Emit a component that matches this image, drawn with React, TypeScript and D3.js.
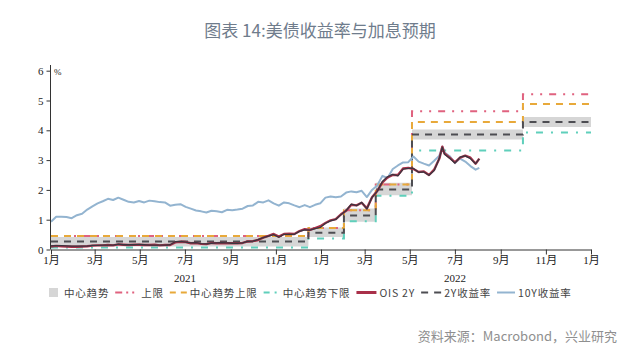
import React, { useEffect, useRef } from "react";
import * as d3 from "d3";

// ---- data ----
const weekDates = [
  "2021-01-01","2021-01-08","2021-01-15","2021-01-22","2021-01-29","2021-02-05","2021-02-12","2021-02-19","2021-02-26",
  "2021-03-05","2021-03-12","2021-03-19","2021-03-26","2021-04-02","2021-04-09","2021-04-16","2021-04-23","2021-04-30",
  "2021-05-07","2021-05-14","2021-05-21","2021-05-28","2021-06-04","2021-06-11","2021-06-18","2021-06-25",
  "2021-07-02","2021-07-09","2021-07-16","2021-07-23","2021-07-30","2021-08-06","2021-08-13","2021-08-20","2021-08-27",
  "2021-09-03","2021-09-10","2021-09-17","2021-09-24","2021-10-01","2021-10-08","2021-10-15","2021-10-22","2021-10-29",
  "2021-11-05","2021-11-12","2021-11-19","2021-11-26","2021-12-03","2021-12-10","2021-12-17","2021-12-24","2021-12-31",
  "2022-01-07","2022-01-14","2022-01-21","2022-01-28","2022-02-04","2022-02-11","2022-02-18","2022-02-25",
  "2022-03-04","2022-03-11","2022-03-18","2022-03-25","2022-04-01","2022-04-08","2022-04-15","2022-04-22","2022-04-29",
  "2022-05-06","2022-05-13","2022-05-20","2022-05-27","2022-06-03","2022-06-10","2022-06-14","2022-06-17","2022-06-24",
  "2022-07-01","2022-07-08","2022-07-15","2022-07-22","2022-07-29","2022-08-03"
];

const tenYear = [
  0.93,1.10,1.10,1.09,1.05,1.15,1.20,1.34,1.45,
  1.55,1.62,1.70,1.66,1.74,1.67,1.60,1.58,1.63,
  1.58,1.64,1.62,1.59,1.58,1.47,1.50,1.52,
  1.43,1.37,1.31,1.28,1.24,1.30,1.28,1.25,1.33,
  1.32,1.34,1.37,1.46,1.48,1.60,1.58,1.65,1.55,
  1.47,1.58,1.55,1.48,1.42,1.49,1.42,1.50,1.55,
  1.74,1.78,1.75,1.78,1.91,1.95,1.92,1.97,
  1.76,2.00,2.15,2.47,2.40,2.70,2.82,2.92,2.93,
  3.12,2.95,2.88,2.82,2.98,3.15,3.45,3.25,3.13,
  2.90,3.05,2.95,2.80,2.68,2.74
];

const ois2Y = [
  0.10,0.12,0.11,0.10,0.09,0.09,0.10,0.11,0.13,
  0.14,0.14,0.15,0.14,0.17,0.16,0.15,0.16,0.16,
  0.15,0.15,0.16,0.14,0.15,0.15,0.24,0.26,
  0.25,0.21,0.22,0.19,0.18,0.22,0.21,0.22,0.21,
  0.21,0.21,0.22,0.27,0.28,0.32,0.40,0.46,0.52,
  0.43,0.52,0.53,0.52,0.62,0.68,0.66,0.72,0.78,
  0.89,0.98,1.02,1.18,1.30,1.50,1.48,1.57,
  1.38,1.75,1.96,2.25,2.42,2.50,2.50,2.72,2.74,
  2.70,2.60,2.62,2.50,2.68,3.05,3.45,3.22,3.08,
  2.92,3.08,3.15,3.08,2.88,3.05
];

const twoYear = [
  0.12,0.13,0.13,0.12,0.11,0.11,0.11,0.11,0.14,
  0.14,0.15,0.15,0.15,0.18,0.16,0.16,0.16,0.17,
  0.16,0.15,0.15,0.15,0.15,0.16,0.26,0.27,
  0.25,0.22,0.23,0.20,0.19,0.21,0.22,0.23,0.22,
  0.21,0.21,0.22,0.27,0.28,0.33,0.40,0.45,0.50,
  0.41,0.51,0.51,0.51,0.61,0.66,0.65,0.70,0.74,
  0.88,0.96,1.01,1.17,1.31,1.52,1.47,1.58,
  1.36,1.75,1.95,2.28,2.44,2.52,2.47,2.70,2.72,
  2.72,2.59,2.60,2.49,2.65,3.06,3.43,3.20,3.06,
  2.90,3.10,3.14,3.05,2.88,3.04
];

const stepDates = ["2021-01-01","2021-12-15","2022-02-01","2022-03-16","2022-05-04","2022-10-01","2023-01-01"];
const upperLimit = [0.45, 0.72, 1.32, 2.18, 4.64, 5.21];
const ctUpper = [0.45, 0.72, 1.32, 2.18, 4.28, 4.88];
const ctLower = [0.07, 0.37, 0.95, 1.80, 3.32, 3.93];
const ctMedian = [0.27, 0.56, 1.14, 2.01, 3.86, 4.28];
const bandLow = [0.10, 0.42, 0.93, 1.82, 3.69, 4.11];
const bandHigh = [0.42, 0.74, 1.38, 2.24, 4.03, 4.45];

const yTicks = [0, 1, 2, 3, 4, 5, 6];
const yearLabels = [["2021", "2021-07-01"], ["2022", "2022-07-01"]];
const legendLabels = ["中心趋势", "上限", "中心趋势上限", "中心趋势下限", "OIS 2Y", "2Y收益率", "10Y收益率"];

const TITLE = "图表 14:美债收益率与加息预期";
const SOURCE = "资料来源：Macrobond，兴业研究";

// ---- styles ----
const C = {
  band: "#d6d6d6",
  pink: "#e0627f",
  orange: "#e8a93a",
  teal: "#5fcfbb",
  median: "#4d4d52",
  ois: "#a93049",
  two: "#3a3640",
  ten: "#93b4d0",
};
const SERIF = "'Liberation Serif','Noto Sans CJK SC',serif";
const SANS = "'Noto Sans CJK SC','Noto Sans',sans-serif";

export default function App() {
  const ref = useRef<SVGSVGElement>(null);

  useEffect(() => {
    const svg = d3.select(ref.current);
    svg.selectAll("*").remove();
    const parse = d3.timeParse("%Y-%m-%d");

    const x = d3.scaleTime().domain([parse("2021-01-01")!, parse("2023-01-01")!]).range([51, 591]);
    const y = d3.scaleLinear().domain([0, 6]).range([249.5, 70.7]);

    // title
    svg.append("text").attr("x", 320).attr("y", 37).attr("text-anchor", "middle")
      .attr("font-family", SANS).attr("font-size", 17).attr("font-weight", 400)
      .attr("fill", "#6f7c8c").text(TITLE);

    const stepPts = (vals: number[]) =>
      stepDates.map((d, i) => ({ d: parse(d)!, v: vals[Math.min(i, vals.length - 1)] }));

    // band
    const bandPts = stepDates.map((d, i) => ({
      d: parse(d)!,
      lo: bandLow[Math.min(i, bandLow.length - 1)],
      hi: bandHigh[Math.min(i, bandHigh.length - 1)],
    }));
    const area = d3.area<any>().x((p) => x(p.d)).y0((p) => y(p.lo)).y1((p) => y(p.hi)).curve(d3.curveStepAfter);
    svg.append("path").attr("d", area(bandPts)!).attr("fill", C.band);

    const stepLine = d3.line<any>().x((p) => x(p.d)).y((p) => y(p.v)).curve(d3.curveStepAfter);
    const steps: [number[], string, string][] = [
      [ctLower, C.teal, "7,8,2,8"],
      [upperLimit, C.pink, "7,7,2,7,2,7"],
      [ctUpper, C.orange, "7,6"],
      [ctMedian, C.median, "7,6"],
    ];
    steps.forEach(([vals, col, dash]) => {
      svg.append("path").attr("d", stepLine(stepPts(vals))!).attr("fill", "none")
        .attr("stroke", col).attr("stroke-width", 2).attr("stroke-dasharray", dash);
    });

    const line = d3.line<any>().x((p) => x(p.d)).y((p) => y(p.v));
    const series = (vals: number[]) => weekDates.map((d, i) => ({ d: parse(d)!, v: vals[i] }));
    svg.append("path").attr("d", line(series(tenYear))!).attr("fill", "none")
      .attr("stroke", C.ten).attr("stroke-width", 2).attr("stroke-linejoin", "round");
    svg.append("path").attr("d", line(series(ois2Y))!).attr("fill", "none")
      .attr("stroke", C.ois).attr("stroke-width", 2.4).attr("stroke-linejoin", "round");
    svg.append("path").attr("d", line(series(twoYear))!).attr("fill", "none")
      .attr("stroke", C.two).attr("stroke-width", 1.3).attr("stroke-linejoin", "round");

    // y axis
    const gy = svg.append("g").attr("transform", "translate(50.5,0)")
      .call(d3.axisLeft(y).tickValues(yTicks).tickFormat(d3.format("d")).tickSize(4).tickPadding(3).tickSizeOuter(0));
    gy.select(".domain").remove();
    gy.selectAll("line").attr("stroke", "#333");
    gy.selectAll("text").attr("font-family", SERIF).attr("font-size", 11).attr("fill", "#222");
    svg.append("line").attr("x1", 50.5).attr("x2", 50.5).attr("y1", 65).attr("y2", 249.5)
      .attr("stroke", "#333").attr("stroke-width", 1);
    svg.append("text").attr("x", 54).attr("y", 75).attr("font-family", SERIF).attr("font-size", 9)
      .attr("fill", "#222").text("%");

    // x axis
    const gx = svg.append("g").attr("transform", "translate(0,249.5)")
      .call(
        d3.axisBottom(x).ticks(d3.timeMonth.every(2)).tickFormat((d: any) => `${d.getMonth() + 1}月`)
          .tickSize(5).tickPadding(2).tickSizeOuter(0)
      );
    gx.select(".domain").attr("stroke", "#333");
    gx.selectAll("line").attr("stroke", "#333");
    gx.selectAll("text").attr("font-family", SERIF).attr("font-size", 11).attr("fill", "#222");

    yearLabels.forEach(([lab, d]) => {
      svg.append("text").attr("x", x(parse(d)!)).attr("y", 281.5).attr("text-anchor", "middle")
        .attr("font-family", SERIF).attr("font-size", 11).attr("fill", "#222").text(lab);
    });

    // legend
    const lg = svg.append("g");
    const ly = 292.5;
    let cx = 49;
    const symbols: ((g: any, x0: number) => number)[] = [
      (g, x0) => { g.append("rect").attr("x", x0).attr("y", ly - 4.5).attr("width", 9).attr("height", 9).attr("fill", C.band); return 9; },
      (g, x0) => { g.append("line").attr("x1", x0).attr("x2", x0 + 23).attr("y1", ly).attr("y2", ly).attr("stroke", C.pink).attr("stroke-width", 2).attr("stroke-dasharray", "7,4,2,4,2,4"); return 23; },
      (g, x0) => { g.append("line").attr("x1", x0).attr("x2", x0 + 17).attr("y1", ly).attr("y2", ly).attr("stroke", C.orange).attr("stroke-width", 2).attr("stroke-dasharray", "6,5"); return 17; },
      (g, x0) => { g.append("line").attr("x1", x0).attr("x2", x0 + 16).attr("y1", ly).attr("y2", ly).attr("stroke", C.teal).attr("stroke-width", 2).attr("stroke-dasharray", "6,5,2,5"); return 16; },
      (g, x0) => { g.append("line").attr("x1", x0).attr("x2", x0 + 20).attr("y1", ly).attr("y2", ly).attr("stroke", C.ois).attr("stroke-width", 3); return 20; },
      (g, x0) => { g.append("line").attr("x1", x0).attr("x2", x0 + 20).attr("y1", ly).attr("y2", ly).attr("stroke", C.median).attr("stroke-width", 2).attr("stroke-dasharray", "7,6"); return 20; },
      (g, x0) => { g.append("line").attr("x1", x0).attr("x2", x0 + 18).attr("y1", ly).attr("y2", ly).attr("stroke", C.ten).attr("stroke-width", 2); return 18; },
    ];
    legendLabels.forEach((lab, i) => {
      const w = symbols[i](lg, cx);
      cx += w + (i === 0 ? 6 : 3);
      const t = lg.append("text").attr("x", cx).attr("y", ly + 4).attr("font-family", SANS)
        .attr("font-size", 10.5).attr("letter-spacing", 0.8).attr("fill", "#444").text(lab);
      cx += (t.node() as SVGTextElement).getComputedTextLength() + 6;
    });

    // source
    svg.append("text").attr("x", 617).attr("y", 341).attr("text-anchor", "end")
      .attr("font-family", SANS).attr("font-size", 13).attr("fill", "#8f8f8f").text(SOURCE);
  }, []);

  return (
    <svg ref={ref} width={640} height={361}
      style={{ position: "absolute", left: 0, top: 0, background: "#fff" }} />
  );
}
